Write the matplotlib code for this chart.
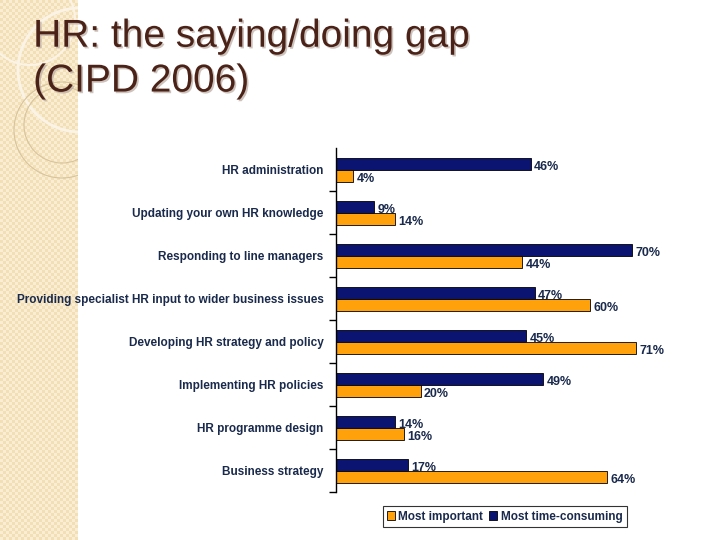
import numpy as np
import matplotlib
matplotlib.use("Agg")
import matplotlib.pyplot as plt
import matplotlib.patheffects as pe
from matplotlib.patches import Circle, Rectangle

plt.rcParams['font.family'] = ['Liberation Sans', 'DejaVu Sans']

categories = ['HR administration', 'Updating your own HR knowledge', 'Responding to line managers',
              'Providing specialist HR input to wider business issues', 'Developing HR strategy and policy',
              'Implementing HR policies', 'HR programme design', 'Business strategy']
time_consuming = [46, 9, 70, 47, 45, 49, 14, 17]
important = [4, 14, 44, 60, 71, 20, 16, 64]

NAVY = '#0c1472'
ORANGE = '#ffa10a'
TEXT = '#1a2a4c'

fig = plt.figure(figsize=(7.2, 5.4), dpi=100)

# slide background: textured strip on the left with circles
bg = fig.add_axes([0, 0, 1, 1])
bg.set_xlim(0, 720)
bg.set_ylim(540, 0)
bg.axis('off')
yy, xx = np.mgrid[0:180, 0:26]
check = ((xx + yy) % 2).astype(float)
cmap = matplotlib.colors.ListedColormap(['#f2dfb6', '#f9edd3'])
bg.imshow(check, cmap=cmap, extent=[0, 78, 540, 0], interpolation='nearest', aspect='auto')
strip = Rectangle((0, 0), 78, 540, transform=bg.transData, fill=False, lw=0)
bg.add_patch(strip)
for (cx, cy, r, col, lw) in [(80, 70, 62, '#fbf4e6', 2.0), (62, 130, 48, '#d8c39a', 0.8),
                             (62, 125, 38, '#d8c39a', 0.8), (30, 20, 45, '#fbf4e6', 1.5)]:
    c = Circle((cx, cy), r, fill=False, ec=col, lw=lw)
    bg.add_patch(c)
    c.set_clip_path(strip)

shadow = [pe.withSimplePatchShadow(offset=(1.2, -1.2), shadow_rgbFace='#b8a8a0', alpha=0.7)]
fig.text(0.046, 0.932, 'HR: the saying/doing gap', fontsize=28, color='#4a2217', va='center',
         path_effects=shadow)
fig.text(0.046, 0.849, '(CIPD 2006)', fontsize=28, color='#4a2217', va='center', path_effects=shadow)

# bar chart
ax = fig.add_axes([0.4667, 0.088, 0.47, 0.637])
y = np.arange(len(categories))
h = 0.28
ax.barh(y - h / 2, time_consuming, height=h, color=NAVY, edgecolor='black', lw=0.6, label='Most time-consuming')
ax.barh(y + h / 2, important, height=h, color=ORANGE, edgecolor='black', lw=0.6, label='Most important')
for i in range(len(categories)):
    ax.text(time_consuming[i] + 0.8, y[i] - h / 2 + 0.06, f'{time_consuming[i]}%', va='center', ha='left',
            fontsize=9, fontweight='bold', color=TEXT)
    ax.text(important[i] + 0.8, y[i] + h / 2 + 0.08, f'{important[i]}%', va='center', ha='left',
            fontsize=9, fontweight='bold', color=TEXT)

ax.set_xlim(0, 80)
ax.set_ylim(len(categories) - 0.5, -0.5)
ax.set_yticks(y)
ax.set_yticklabels(categories, fontsize=8.5, fontweight='bold', color=TEXT)
ax.set_yticks(np.arange(0.5, len(categories), 1), minor=True)
ax.tick_params(axis='y', which='major', length=0, pad=9)
ax.tick_params(axis='y', which='minor', length=5, width=1)
ax.set_xticks([])
for s in ['top', 'right', 'bottom']:
    ax.spines[s].set_visible(False)
ax.spines['left'].set_linewidth(1)

handles, labels = ax.get_legend_handles_labels()
leg = fig.legend(handles[::-1], labels[::-1], loc='center', bbox_to_anchor=(0.701, 0.0435), ncol=2,
                 frameon=True, fancybox=False, edgecolor='black', handlelength=0.7, handleheight=0.7,
                 handletextpad=0.3, columnspacing=0.5, borderpad=0.35,
                 prop={'weight': 'bold', 'size': 8.5})
for t in leg.get_texts():
    t.set_color(TEXT)
leg.get_frame().set_linewidth(0.8)

fig.savefig('out.png', dpi=100)
